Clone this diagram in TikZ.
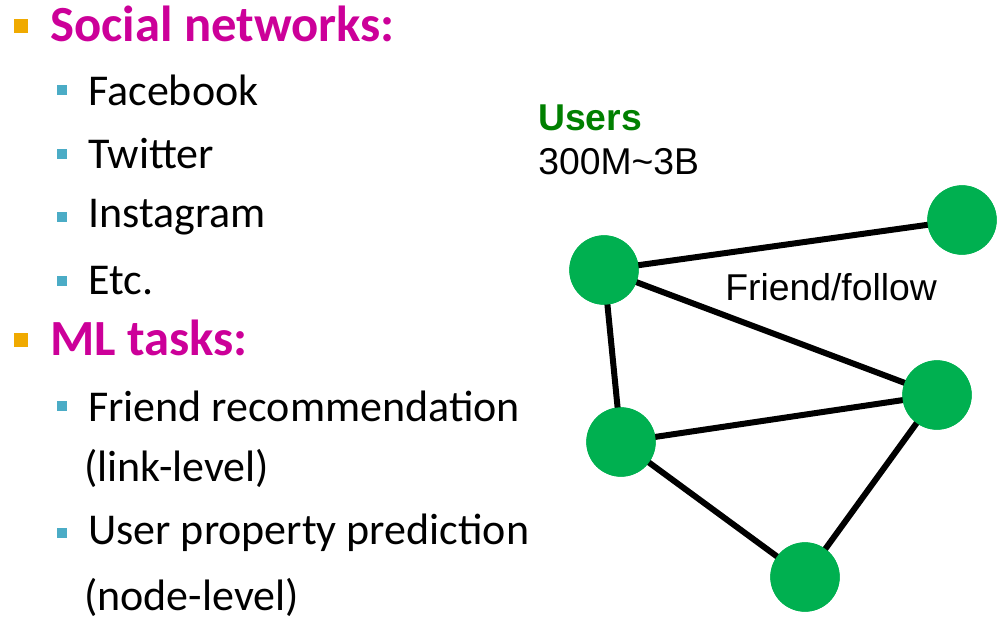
\documentclass[tikz,border=0pt]{standalone}
\usepackage{fontspec}
\setmainfont{Carlito}
\newfontfamily\arialf{Liberation Sans}
\definecolor{mag}{RGB}{204,0,153}
\definecolor{gr}{RGB}{0,176,80}
\definecolor{dgr}{RGB}{0,128,0}
\definecolor{orb}{RGB}{240,170,0}
\definecolor{teal}{RGB}{75,172,198}
\begin{document}
\begin{tikzpicture}[x=0.75pt,y=-0.75pt,
 big/.style={anchor=west,inner sep=0pt,font=\fontsize{38}{40}\selectfont\bfseries,text=mag},
 sub/.style={anchor=west,inner sep=0pt,font=\fontsize{33}{36}\selectfont},
 ob/.style={fill=orb,minimum size=10pt,inner sep=0pt},
 tb/.style={fill=teal,minimum size=8pt,inner sep=0pt},
 vx/.style={circle,fill=gr,minimum size=52pt,inner sep=0pt},
 ed/.style={line width=4.5pt},
 ar/.style={anchor=west,inner sep=0pt,font=\arialf\fontsize{28}{30}\selectfont}]
\useasboundingbox (0,0) rectangle (1003,621);
\node[ob] (b1) at (21,26) {};
\node[big] (t1) at (50,24) {Social networks:};
\node[tb] (s1) at (62,90) {}; \node[sub] (l1) at (88,90) {Facebook};
\node[tb] (s2) at (62,154) {}; \node[sub] (l2) at (88,154) {Twitter};
\node[tb] (s3) at (62,217) {}; \node[sub] (l3) at (88,217) {Instagram};
\node[tb] (s4) at (62,281) {}; \node[sub] (l4) at (88,281) {Etc.};
\node[ob] (b2) at (21,340) {};
\node[big] (t2) at (50,338) {ML tasks:};
\node[tb] (s5) at (62,406) {}; \node[sub] (l5) at (88,406) {Friend recommendation};
\node[sub] (l6) at (84,468) {(link-level)};
\node[tb] (s7) at (62,533) {}; \node[sub] (l7) at (88,533) {User property prediction};
\node[sub] (l8) at (84,597) {(node-level)};
\node[ar,font=\arialf\bfseries\fontsize{28}{30}\selectfont,text=dgr] (u) at (538,118) {Users};
\node[ar] (n) at (538,162) {300M\textasciitilde 3B};
\node[ar] (ff) at (725,287) {Friend/follow};
\node[vx] (A) at (604,270) {};
\node[vx] (B) at (962,220) {};
\node[vx] (C) at (937,395) {};
\node[vx] (D) at (621,442) {};
\node[vx] (E) at (805,577) {};
\draw[ed] (A.center)--(B.center) (A.center)--(C.center) (A.center)--(D.center)
 (D.center)--(C.center) (D.center)--(E.center) (C.center)--(E.center);
\foreach \v in {A,B,C,D,E} \fill[gr] (\v) circle (26pt);
\end{tikzpicture}
\end{document}
